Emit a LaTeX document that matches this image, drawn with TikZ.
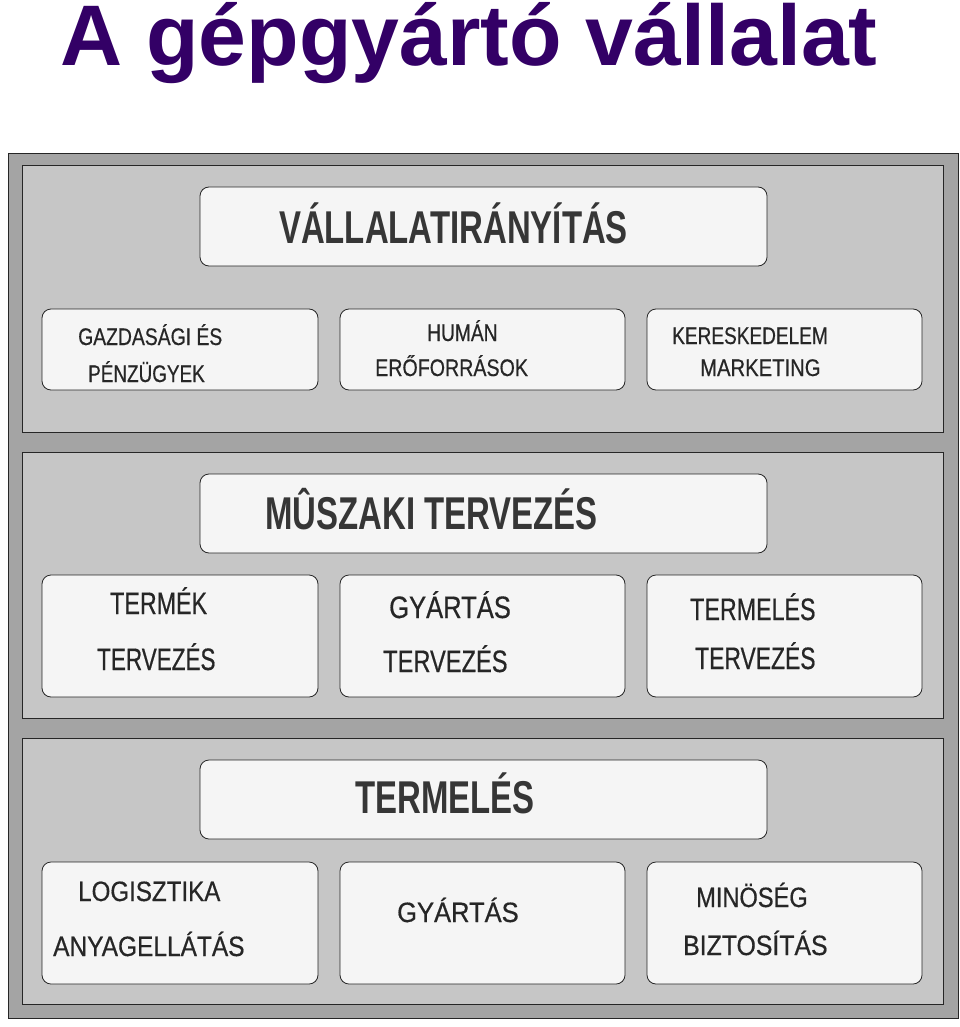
\documentclass[tikz,border=0pt]{standalone}
\usepackage{fontspec}
\setmainfont{Liberation Sans}
\newfontfamily\titlefont{Liberation Sans}
\newfontfamily\headfont[FakeStretch=0.716]{Liberation Sans}
\newfontfamily\subfont[FakeStretch=0.62,FakeBold=0.4]{Liberation Sans}
\newcommand\sxb[2]{\scalebox{#1}[1]{#2}}
\definecolor{titlecol}{HTML}{330066}
\definecolor{panel}{HTML}{C6C6C6}
\definecolor{band}{HTML}{A4A4A4}
\definecolor{boxfill}{HTML}{F5F5F5}
\definecolor{inkcol}{HTML}{262626}
\definecolor{headcol}{HTML}{363636}
\begin{document}
\begin{tikzpicture}[x=1pt,y=-1pt,
  section/.style={draw=inkcol, line width=0.8pt, fill=panel},
  boxstyle/.style={draw=inkcol, line width=0.8pt, fill=boxfill, rounded corners=9pt},
  headtext/.style={text=headcol, font=\headfont\bfseries\fontsize{46}{48}\selectfont, inner sep=0pt, anchor=base},
  subtext/.style={text=inkcol, inner sep=0pt, anchor=base west},
  subone/.style={subtext, font=\subfont\fontsize{24}{26}\selectfont},
  subtwo/.style={subtext, font=\subfont\fontsize{31}{33}\selectfont},
  subthree/.style={subtext, font=\subfont\fontsize{28}{30}\selectfont}]
\useasboundingbox (0,0) rectangle (960,1027);
\fill[white] (0,0) rectangle (960,1027);
% title
\node[text=titlecol, font=\titlefont\bfseries\fontsize{86}{88}\selectfont, inner sep=0pt, anchor=base] (title) at (469,66) {A gépgyártó vállalat};
% outer panel
\draw[fill=band, draw=inkcol, line width=0.8pt] (8,153) rectangle (958,1018);
\draw[section] (22,165) rectangle (943,432);
\draw[section] (22,452) rectangle (943,718);
\draw[section] (22,738) rectangle (943,1004);
% section 1
\draw[boxstyle] (200,187) rectangle (767,266);
\node[headtext] (h1) at (453.5,243) {VÁLLALATIRÁNYÍTÁS};
\draw[boxstyle] (42,309) rectangle (318,390);
\draw[boxstyle] (340,309) rectangle (625,390);
\draw[boxstyle] (647,309) rectangle (922,390);
\node[subone] (a1) at (78,345) {\sxb{1.30}{GAZDASÁGI ÉS}};
\node[subone] (a2) at (88,382) {\sxb{1.27}{PÉNZÜGYEK}};
\node[subone] (b1) at (427,341) {\sxb{1.29}{HUMÁN}};
\node[subone] (b2) at (375,376) {\sxb{1.32}{ERŐFORRÁSOK}};
\node[subone] (c1) at (672,344) {\sxb{1.28}{KERESKEDELEM}};
\node[subone] (c2) at (700,376) {\sxb{1.36}{MARKETING}};
% section 2
\draw[boxstyle] (200,474) rectangle (767,553);
\node[headtext] (h2) at (431.5,529) {MÛSZAKI TERVEZÉS};
\draw[boxstyle] (42,575) rectangle (318,697);
\draw[boxstyle] (340,575) rectangle (625,697);
\draw[boxstyle] (647,575) rectangle (922,697);
\node[subtwo] (d1) at (110,614) {\sxb{1.21}{TERMÉK}};
\node[subtwo] (d2) at (97,670) {\sxb{1.17}{TERVEZÉS}};
\node[subtwo] (e1) at (389,618) {\sxb{1.33}{GYÁRTÁS}};
\node[subtwo] (e2) at (383,672) {\sxb{1.23}{TERVEZÉS}};
\node[subtwo] (f1) at (690,620) {\sxb{1.21}{TERMELÉS}};
\node[subtwo] (f2) at (695,669) {\sxb{1.19}{TERVEZÉS}};
% section 3
\draw[boxstyle] (200,760) rectangle (767,839);
\node[headtext] (h3) at (445,813) {TERMELÉS};
\draw[boxstyle] (42,862) rectangle (318,984);
\draw[boxstyle] (340,862) rectangle (625,984);
\draw[boxstyle] (647,862) rectangle (922,984);
\node[subthree] (g1) at (78,901) {\sxb{1.39}{LOGISZTIKA}};
\node[subthree] (g2) at (53,956) {\sxb{1.41}{ANYAGELLÁTÁS}};
\node[subthree] (k1) at (397,922) {\sxb{1.47}{GYÁRTÁS}};
\node[subthree] (m1) at (696,907) {\sxb{1.36}{MINÖSÉG}};
\node[subthree] (m2) at (683,955) {\sxb{1.43}{BIZTOSÍTÁS}};
\end{tikzpicture}
\end{document}
